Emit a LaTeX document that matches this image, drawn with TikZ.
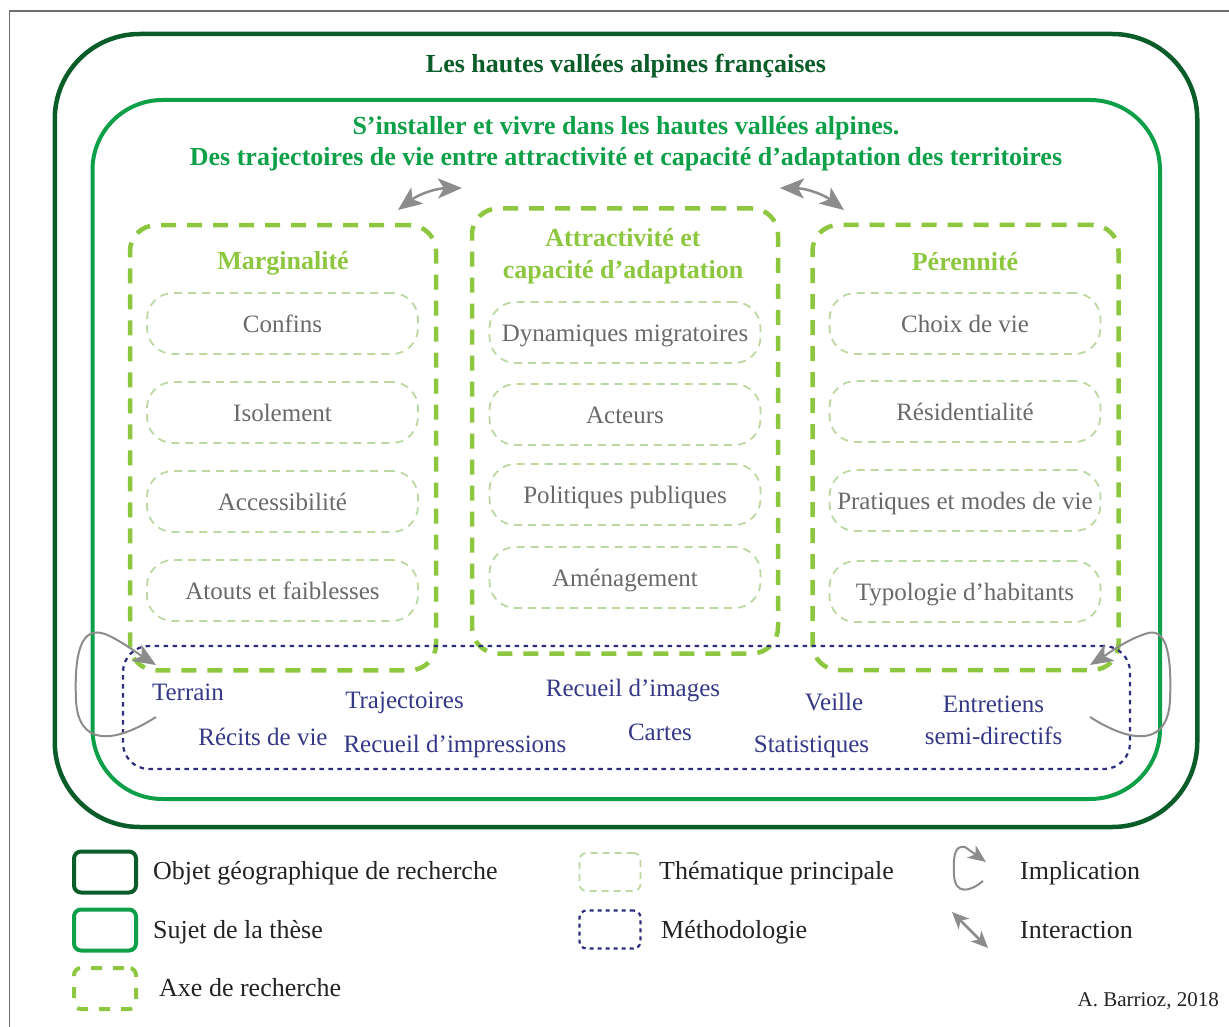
\documentclass[tikz,border=0pt]{standalone}
\usepackage{fontspec}
\setmainfont{Liberation Serif}
\usetikzlibrary{arrows.meta}
\definecolor{darkgr}{RGB}{10,92,40}
\definecolor{medgr}{RGB}{14,160,72}
\definecolor{axisgr}{RGB}{141,198,63}
\definecolor{themegr}{RGB}{188,216,162}
\definecolor{navyc}{RGB}{44,46,125}
\definecolor{methtxt}{RGB}{52,56,135}
\definecolor{thtxt}{RGB}{105,105,105}
\definecolor{arrgray}{RGB}{140,140,140}
\definecolor{framegray}{RGB}{110,110,110}
\definecolor{legtxt}{RGB}{35,35,35}
\newcommand{\szbody}{\fontsize{25}{30}\selectfont}
\newcommand{\szleg}{\fontsize{26}{30}\selectfont}
\newcommand{\sztitle}{\fontsize{26}{31.5}\selectfont}
\newcommand{\szsmall}{\fontsize{21}{25}\selectfont}
\begin{document}
\begin{tikzpicture}[x=1pt,y=-1pt,
  objbox/.style={draw=darkgr,line width=4.5pt,rounded corners=85pt,inner sep=0pt},
  sujbox/.style={draw=medgr,line width=4pt,rounded corners=70pt,inner sep=0pt},
  axisbox/.style={draw=axisgr,line width=4.5pt,dash pattern=on 15pt off 11pt,rounded corners=26pt,inner sep=0pt,minimum width=306pt,minimum height=445pt},
  themebox/.style={draw=themegr,line width=1.8pt,dash pattern=on 8pt off 6pt,rounded corners=26pt,inner sep=0pt,minimum width=271pt,minimum height=61pt,text=thtxt,font=\szbody,text height=20pt,text depth=2pt},
  methbox/.style={draw=navyc,line width=2.2pt,dash pattern=on 4.5pt off 4.5pt,rounded corners=26pt,inner sep=0pt},
  methlbl/.style={text=methtxt,font=\szbody,inner sep=0pt,text height=19pt,text depth=3pt},
  axistitle/.style={text=axisgr,font=\bfseries\sztitle,align=center,inner sep=0pt},
  interarrow/.style={draw=arrgray,line width=2.5pt,{Stealth[length=24pt,width=20pt,inset=6pt]}-{Stealth[length=24pt,width=20pt,inset=6pt]}},
  implarrow/.style={draw=arrgray,line width=2pt,-{Stealth[length=23pt,width=19pt,inset=6pt]}},
  legtext/.style={text=legtxt,font=\szleg,anchor=west,inner sep=0pt,text height=19pt,text depth=3pt},
]
\useasboundingbox (0,0) rectangle (1229,1027);
\draw[framegray,line width=1.6pt] (9.5,1027) -- (9.5,11) -- (1229,11);

% main boxes
\node[objbox,minimum width=1142.5pt,minimum height=793pt] (objet) at (626,430.5) {};
\node[sujbox,minimum width=1067.5pt,minimum height=699pt] (sujet) at (626.25,449.5) {};

\node[text=darkgr,font=\bfseries\sztitle,inner sep=0pt] (ttl) at (626,66) {Les hautes vallées alpines françaises};
\node[text=medgr,font=\bfseries\sztitle,align=center,inner sep=0pt] (sub) at (626,143.5) {S’installer et vivre dans les hautes vallées alpines.\\Des trajectoires de vie entre attractivité et capacité d’adaptation des territoires};

% axes
\node[axisbox] (marg) at (283,447.75) {};
\node[axisbox] (attr) at (625,431) {};
\node[axisbox] (pere) at (965.5,447.5) {};

\node[axistitle] (margt) at (283,263) {Marginalité};
\node[axistitle] (attrt) at (623,256) {Attractivité et\\capacité d’adaptation};
\node[axistitle] (peret) at (965,262) {Pérennité};

% themes
\node[themebox] (m1) at (282.5,323.5) {Confins};
\node[themebox] (m2) at (282.5,412.5) {Isolement};
\node[themebox] (m3) at (282.5,501.5) {Accessibilité};
\node[themebox] (m4) at (282.5,590.5) {Atouts et faiblesses};

\node[themebox] (a1) at (625,332.5) {Dynamiques migratoires};
\node[themebox] (a2) at (625,414.5) {Acteurs};
\node[themebox] (a3) at (625,494.5) {Politiques publiques};
\node[themebox] (a4) at (625,577.5) {Aménagement};

\node[themebox] (p1) at (965,323.5) {Choix de vie};
\node[themebox] (p2) at (965,411.5) {Résidentialité};
\node[themebox] (p3) at (965,500.5) {Pratiques et modes de vie};
\node[themebox] (p4) at (965,591.5) {Typologie d’habitants};

% methodology
\node[methbox,minimum width=1007pt,minimum height=123pt] (meth) at (626.5,707.5) {};
\node[methlbl] (mt1) at (188,692) {Terrain};
\node[methlbl] (mt2) at (404.5,700) {Trajectoires};
\node[methlbl] (mt3) at (633,688) {Recueil d’images};
\node[methlbl] (mt4) at (834,702) {Veille};
\node[methlbl] (mt5) at (993.5,704) {Entretiens};
\node[methlbl] (mt6) at (993.5,736) {semi-directifs};
\node[methlbl] (mt7) at (263,737) {Récits de vie};
\node[methlbl] (mt8) at (455,744) {Recueil d’impressions};
\node[methlbl] (mt9) at (660,732) {Cartes};
\node[methlbl] (mt10) at (811.5,744) {Statistiques};

% interaction arrows
\coordinate (ia1) at (398,210);
\coordinate (ia2) at (462,188);
\coordinate (ib1) at (780,188);
\coordinate (ib2) at (844,210);
\draw[interarrow] (ia1) to[bend left=18] (ia2);
\draw[interarrow] (ib1) to[bend left=18] (ib2);

% implication arrows
\coordinate (il1) at (156,717);
\coordinate (il2) at (156,665);
\coordinate (ir1) at (1090,717);
\coordinate (ir2) at (1090,665);
\draw[implarrow] (il1) .. controls (112,745) and (78,745) .. (76,700)
  .. controls (74,650) and (82,626) .. (105,634)
  .. controls (120,640) and (140,655) .. (il2);
\draw[implarrow] (ir1) .. controls (1134,745) and (1168,745) .. (1170,700)
  .. controls (1172,650) and (1165,626) .. (1145,634)
  .. controls (1126,640) and (1106,655) .. (ir2);

% legend
\node[draw=darkgr,line width=4pt,rounded corners=7pt,minimum width=62pt,minimum height=41pt,inner sep=0pt] (lg1) at (105,872) {};
\node[legtext] (lg1t) at (153,871) {Objet géographique de recherche};
\node[draw=medgr,line width=4pt,rounded corners=7pt,minimum width=62pt,minimum height=41pt,inner sep=0pt] (lg2) at (105,930) {};
\node[legtext] (lg2t) at (153,930) {Sujet de la thèse};
\node[draw=axisgr,line width=4pt,dash pattern=on 11pt off 11pt,dash phase=-5pt,rounded corners=7pt,minimum width=62pt,minimum height=41pt,inner sep=0pt] (lg3) at (105,988.5) {};
\node[legtext] (lg3t) at (159,988) {Axe de recherche};

\node[draw=themegr,line width=1.8pt,dash pattern=on 7pt off 5pt,rounded corners=7pt,minimum width=61pt,minimum height=38pt,inner sep=0pt] (lg4) at (610,872) {};
\node[legtext] (lg4t) at (659,871) {Thématique principale};
\node[draw=navyc,line width=2.2pt,dash pattern=on 4pt off 4pt,rounded corners=7pt,minimum width=61pt,minimum height=38pt,inner sep=0pt] (lg5) at (610,929.5) {};
\node[legtext] (lg5t) at (661,930) {Méthodologie};

\coordinate (li1) at (983,881);
\coordinate (li2) at (986,862);
\draw[draw=arrgray,line width=2pt,-{Stealth[length=18pt,width=15pt,inset=5pt]}] (li1) .. controls (970,892) and (955,895) .. (954,875)
  .. controls (953,855) and (955,845) .. (965,847) -- (li2);
\node[legtext] (lg6t) at (1020,871) {Implication};
\coordinate (lj1) at (952,912);
\coordinate (lj2) at (988,948);
\draw[draw=arrgray,line width=2.5pt,{Stealth[length=17pt,width=15pt,inset=5pt]}-{Stealth[length=17pt,width=15pt,inset=5pt]}] (lj1) -- (lj2);
\node[legtext] (lg7t) at (1020,930) {Interaction};

\node[text=legtxt,font=\szsmall,anchor=east,inner sep=0pt] (credit) at (1219,1001) {A. Barrioz, 2018};
\end{tikzpicture}
\end{document}
